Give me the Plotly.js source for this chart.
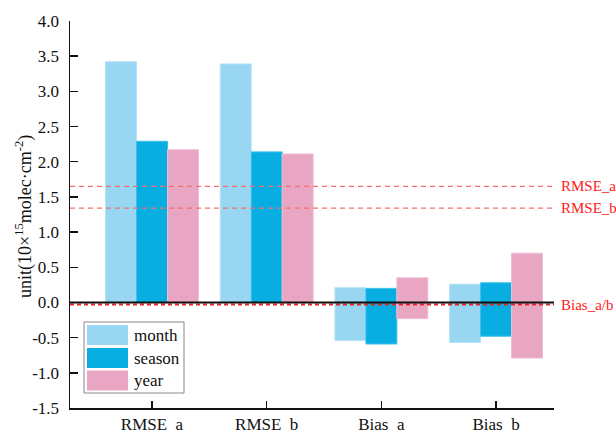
<!DOCTYPE html>
<html>
<head>
<meta charset="utf-8">
<script src="https://cdn.plot.ly/plotly-3.0.1.min.js"></script>
<style>
  html, body { margin: 0; padding: 0; background: #fff; }
  #chart { width: 616px; height: 433px; }
</style>
</head>
<body>
<div id="chart"></div>
<script>
// Categories on the x axis
const categories = ["RMSE\u00a0\u00a0a", "RMSE\u00a0\u00a0b", "Bias\u00a0\u00a0a", "Bias\u00a0\u00a0b"];

// Upper and lower ends of each bar (RMSE bars start at zero, bias bars span a range)
const monthHigh  = [3.42, 3.39, 0.21, 0.26];
const monthLow   = [0, 0, -0.54, -0.57];
const seasonHigh = [2.29, 2.14, 0.20, 0.28];
const seasonLow  = [0, 0, -0.59, -0.48];
const yearHigh   = [2.17, 2.11, 0.35, 0.70];
const yearLow    = [0, 0, -0.23, -0.79];

// Reference levels drawn as dashed lines
const refNames  = ["RMSE_a", "RMSE_b", "Bias_a/b"];
const refValues = [1.65, 1.34, -0.03];

// Y tick values and their labels (plain hyphen for negatives)
const yTickVals  = [-1.5, -1.0, -0.5, 0.0, 0.5, 1.0, 1.5, 2.0, 2.5, 3.0, 3.5, 4.0];
const yTickLabels = ["-1.5", "-1.0", "-0.5", "0.0", "0.5", "1.0", "1.5", "2.0", "2.5", "3.0", "3.5", "4.0"];

const seriesNames = ["month", "season", "year"];
const colors = ["#98D6F1", "#08ADE1", "#E9A6C2"];
const edges  = ["#B4E2F6", "#3CC0EA", "#F0BDD2"];

const FONT = "Liberation Serif, Times New Roman, serif";

function barTrace(name, high, low, color, edge) {
  return {
    type: "bar",
    name: name,
    x: categories,
    y: high.map((h, i) => h - low[i]),
    base: low,
    marker: { color: color, line: { color: edge, width: 1 } },
    hoverinfo: "skip"
  };
}

const traces = [
  barTrace(seriesNames[0], monthHigh, monthLow, colors[0], edges[0]),
  barTrace(seriesNames[1], seasonHigh, seasonLow, colors[1], edges[1]),
  barTrace(seriesNames[2], yearHigh, yearLow, colors[2], edges[2])
];

// Plot area in pixels
const L = 70, R = 62, T = 21, B = 25;
const W = 616 - L - R, H = 433 - T - B;
const px = x => (x - L) / W;
const py = y => (433 - B - y) / H;

const shapes = [];
const annotations = [];

// Dashed reference lines with labels on the right
refValues.forEach((v, i) => {
  const isBias = i === 2;
  shapes.push({
    type: "line", xref: "paper", yref: "y", x0: 0, x1: 1, y0: v, y1: v,
    line: { color: isBias ? "#E8262A" : "#F47070", width: isBias ? 2 : 1.4, dash: isBias ? "4px,3px" : "5px,4px" },
    layer: "above"
  });
  annotations.push({
    xref: "paper", yref: "y", x: px(559), y: v, xanchor: "left", yanchor: "middle",
    text: refNames[i], showarrow: false,
    font: { family: FONT, size: 15, color: "#FF2020" }
  });
});

// Zero line
shapes.push({
  type: "line", xref: "paper", yref: "y", x0: 0, x1: 1, y0: 0, y1: 0,
  line: { color: "#111", width: 2 }, layer: "above"
});

// Legend box
shapes.push({
  type: "rect", xref: "paper", yref: "paper",
  x0: px(84), x1: px(184), y0: py(393), y1: py(322),
  line: { color: "#888", width: 1 }, fillcolor: "#fff", layer: "above"
});
const rows = [[325, 345], [348, 368], [370.5, 390.5]];
rows.forEach((r, i) => {
  shapes.push({
    type: "rect", xref: "paper", yref: "paper",
    x0: px(87), x1: px(128), y0: py(r[1]), y1: py(r[0]),
    line: { width: 0 }, fillcolor: colors[i], layer: "above"
  });
  annotations.push({
    xref: "paper", yref: "paper", x: px(132), y: py((r[0] + r[1]) / 2),
    xanchor: "left", yanchor: "middle", text: seriesNames[i], showarrow: false,
    font: { family: FONT, size: 17, color: "#111" }
  });
});

// Y axis title
annotations.push({
  xref: "paper", yref: "paper", x: px(24), y: py(217),
  xanchor: "center", yanchor: "middle", textangle: -90, showarrow: false,
  text: "unit(10×<sup>15</sup>molec·cm<sup>-2</sup>)",
  font: { family: FONT, size: 18, color: "#111" }
});

const layout = {
  width: 616, height: 433,
  margin: { l: L, r: R, t: T, b: B, pad: 0 },
  paper_bgcolor: "#fff", plot_bgcolor: "#fff",
  showlegend: false,
  barmode: "group", bargap: 0.19, bargroupgap: 0,
  font: { family: FONT, size: 17, color: "#111" },
  xaxis: {
    range: [-0.715, 3.505],
    showgrid: false, zeroline: false,
    showline: true, linecolor: "#111", linewidth: 1.5,
    ticks: "inside", ticklen: 7, tickwidth: 1.5, tickcolor: "#111",
    tickfont: { family: FONT, size: 17, color: "#111" },
    ticklabelstandoff: 0,
    fixedrange: true
  },
  yaxis: {
    range: [-1.5, 4.0],
    tickmode: "array", tickvals: yTickVals, ticktext: yTickLabels,
    showgrid: false, zeroline: false,
    showline: true, linecolor: "#111", linewidth: 1.5,
    ticks: "inside", ticklen: 8, tickwidth: 1.5, tickcolor: "#111",
    tickfont: { family: FONT, size: 17, color: "#111" },
    ticklabelstandoff: 6,
    fixedrange: true
  },
  shapes: shapes,
  annotations: annotations
};

Plotly.newPlot("chart", traces, layout, { displayModeBar: false, staticPlot: true });
</script>
</body>
</html>
